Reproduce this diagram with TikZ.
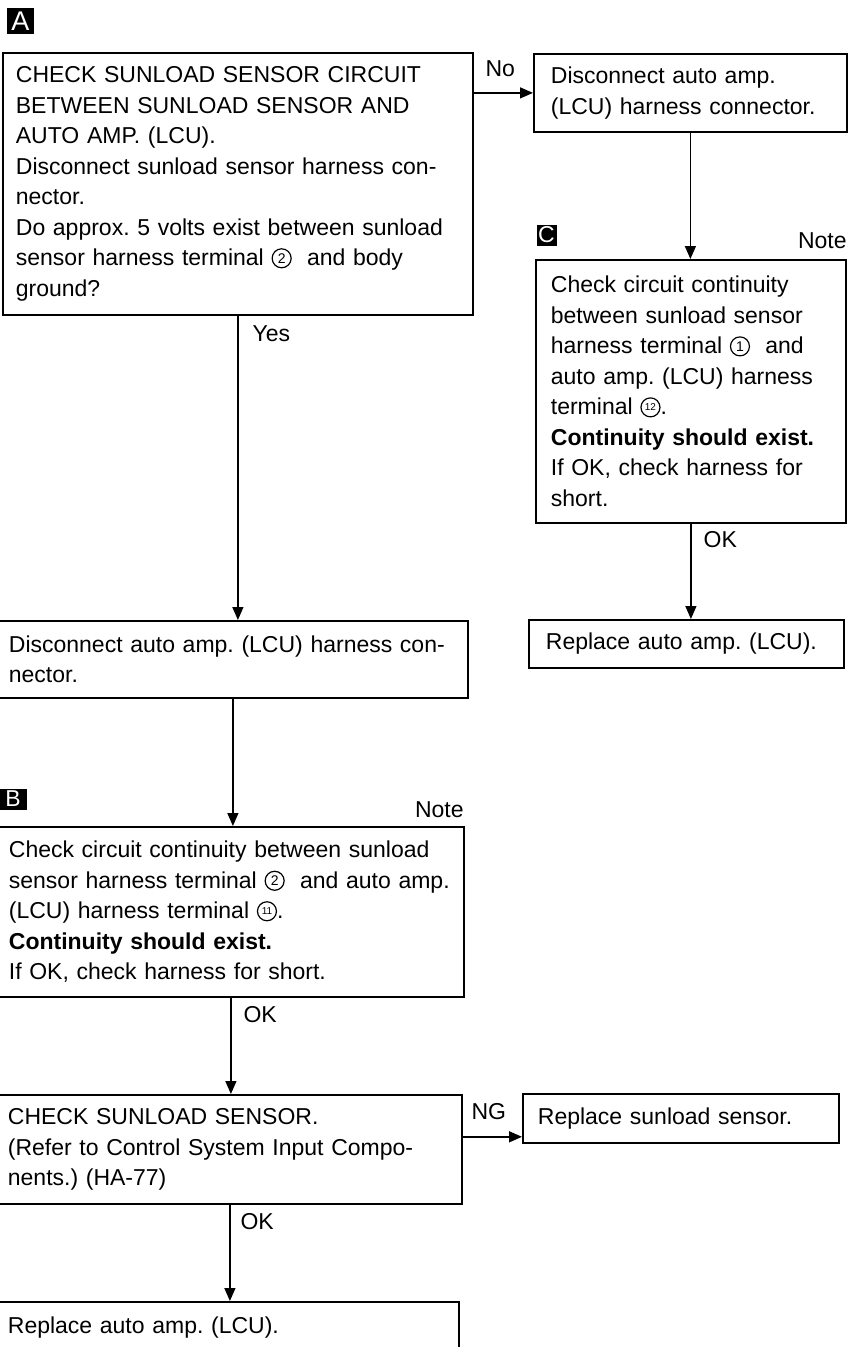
\documentclass[tikz,border=0pt]{standalone}
\usepackage{fontspec}
\setmainfont{Liberation Sans}
\usepackage{tikz}
\usetikzlibrary{arrows.meta}
\usetikzlibrary{calc, positioning}
\frenchspacing
\tikzstyle{stepbox}=[rectangle, draw, line width=1.8pt, anchor=north west, inner ysep=0pt]
\tikzstyle{flow}=[->, line width=1.4pt]
\tikzstyle{tag}=[rectangle, fill=black, text=white, inner sep=0pt, font=\fontsize{23pt}{23pt}\selectfont]
\tikzstyle{lbl}=[inner sep=0pt, anchor=west]
\newcommand{\termno}[2][14pt]{\tikz[baseline={([yshift=-7.5pt]tn.center)}]
  \node[circle, draw, line width=1.2pt, inner sep=0pt, minimum size=19pt, font=\fontsize{#1}{#1}\selectfont] (tn) {#2};}

\begin{document}
\begin{tikzpicture}[x=1pt, y=-1pt]

\tikzset{>={Triangle[length=13pt, width=11pt]}}
\tikzset{every node/.style={font=\fontsize{23pt}{30.5pt}\selectfont}}

\useasboundingbox (0,0) rectangle (848,1347);

% Left column
\node[stepbox, minimum width=470pt, minimum height=262pt, inner xsep=13pt, text width=444pt, align=left] (boxA) at (2,52) {CHECK SUNLOAD SENSOR CIRCUIT\\
BETWEEN SUNLOAD SENSOR AND\\
AUTO AMP. (LCU).\\
Disconnect sunload sensor harness con-\\
nector.\\
Do approx. 5 volts exist between sunload\\
sensor harness terminal \termno{2}\ \ and body\\
ground?};
\node[stepbox, minimum width=470pt, minimum height=77pt, inner xsep=11pt, text width=448pt, align=left] (boxDis) at (-3,620) {Disconnect auto amp. (LCU) harness con-\\
nector.};
\node[stepbox, minimum width=466pt, minimum height=170pt, inner xsep=11pt, text width=444pt, align=left] (boxB) at (-3,826) {Check circuit continuity between sunload\\
sensor harness terminal \termno{2}\ \ and auto amp.\\
(LCU) harness terminal \termno[10pt]{11}.\\
\textbf{Continuity should exist.}\\
If OK, check harness for short.};
\node[stepbox, minimum width=464pt, minimum height=109pt, inner xsep=10pt, text width=444pt, align=left] (boxD) at (-3,1094) {CHECK SUNLOAD SENSOR.\\
(Refer to Control System Input Compo-\\
nents.) (HA-77)};
\node[stepbox, minimum width=461pt, minimum height=51pt, inner xsep=10pt, text width=441pt, align=left] (boxE) at (-3,1301) {Replace auto amp. (LCU).};

% Right column
\node[stepbox, minimum width=313pt, minimum height=78pt, inner xsep=17pt, text width=279pt, align=left] (boxNo) at (533,53) {Disconnect auto amp.\\
(LCU) harness connector.};
\node[stepbox, minimum width=310pt, minimum height=263pt, inner xsep=15pt, text width=280pt, align=left] (boxC) at (535,259) {Check circuit continuity\\
between sunload sensor\\
harness terminal \termno{1}\ \ and\\
auto amp. (LCU) harness\\
terminal \termno[10pt]{12}.\\
\textbf{Continuity should exist.}\\
If OK, check harness for\\
short.};
\node[stepbox, minimum width=315pt, minimum height=48pt, inner xsep=17pt, text width=281pt, align=left] (boxRepC) at (528,619) {Replace auto amp. (LCU).};
\node[stepbox, minimum width=316pt, minimum height=49pt, inner xsep=15pt, text width=286pt, align=left] (boxNG) at (522,1093) {Replace sunload sensor.};

% Step tags and notes
\node[tag, minimum width=27pt, minimum height=26pt, font=\fontsize{27pt}{27pt}\selectfont] (tagA) at (20.5,21) {A};
\node[tag, minimum width=27pt, minimum height=21pt] (tagB) at (13,799) {B};
\node[tag, minimum width=20pt, minimum height=21pt] (tagC) at (546.5,235) {C};
\node[inner sep=0pt, above left=10pt and 0pt of boxC.north east] (noteC) {Note};
\node[inner sep=0pt, above left=8pt and 1pt of boxB.north east] (noteB) {Note};

% Arrows
\coordinate (ngin) at ([yshift=7pt]boxNG.south west);
\draw[flow] (boxA.east |- boxNo.west) -- node[lbl, pos=0, xshift=11pt, yshift=24pt] {No} (boxNo.west);
\draw[flow] (boxNo.south) -- (boxNo.south |- boxC.north);
\draw[flow] (boxC.south) -- node[lbl, pos=0, xshift=12pt, yshift=-16pt] {OK} (boxC.south |- boxRepC.north);
\draw[flow] (boxA.south) -- node[lbl, pos=0, xshift=14pt, yshift=-18pt] {Yes} (boxA.south |- boxDis.north);
\draw[flow] (boxDis.south) -- (boxDis.south |- boxB.north);
\draw[flow] (boxB.south) -- node[lbl, pos=0, xshift=12pt, yshift=-17pt] {OK} (boxB.south |- boxD.north);
\draw[flow] (boxD.east |- ngin) -- node[lbl, pos=0, xshift=8pt, yshift=25pt] {NG} (ngin);
\draw[flow] (boxD.south) -- node[lbl, pos=0, xshift=10pt, yshift=-17pt] {OK} (boxD.south |- boxE.north);

\end{tikzpicture}
\end{document}
